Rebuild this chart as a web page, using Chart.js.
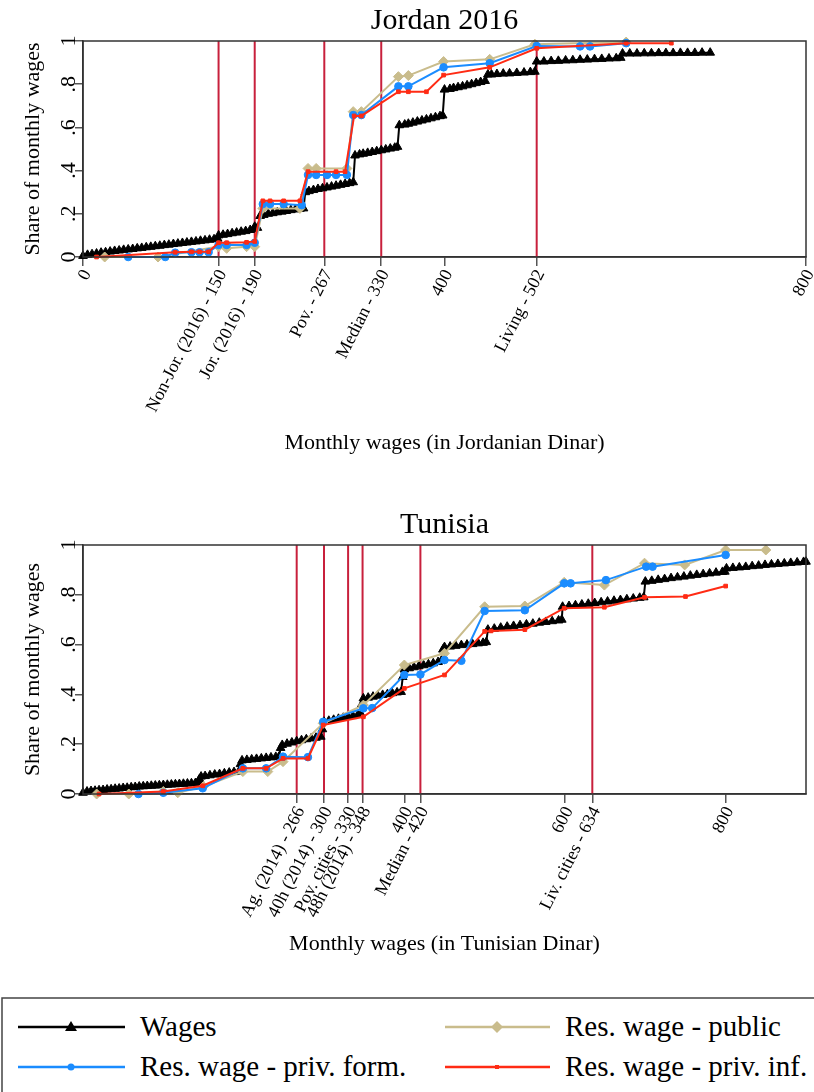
<!DOCTYPE html>
<html>
<head>
<meta charset="utf-8">
<script src="https://cdn.jsdelivr.net/npm/chart.js@4.4.0/dist/chart.umd.min.js"></script>
<style>
	body { margin: 0; background: #fff; width: 814px; height: 1092px; overflow: hidden; position: relative; font-family: "Liberation Serif", serif; }
	canvas { position: absolute; left: 0; }
	#jordan { top: 0; }
	#tunisia { top: 490px; }
	#legend { position: absolute; left: 0; top: 997px; }
</style>
</head>
<body>
<canvas id="jordan" width="814" height="490"></canvas>
<canvas id="tunisia" width="814" height="500"></canvas>
<svg id="legend" width="814" height="95" font-family="Liberation Serif" font-size="29">
	<rect x="2" y="1" width="840" height="130" fill="none" stroke="#444" stroke-width="1.5"/>
	<line x1="18" y1="30" x2="125" y2="30" stroke="#000" stroke-width="2.5"/>
	<polygon points="71,24 77,34 65,34" fill="#000"/>
	<text x="140" y="39">Wages</text>
	<line x1="445" y1="30" x2="550" y2="30" stroke="#c9bc8c" stroke-width="2.5"/>
	<polygon points="497,24 503,30 497,36 491,30" fill="#c9bc8c"/>
	<text x="565" y="39">Res. wage - public</text>
	<line x1="18" y1="70" x2="125" y2="70" stroke="#1a8cff" stroke-width="2.5"/>
	<circle cx="71" cy="70" r="3.5" fill="#1a8cff"/>
	<text x="140" y="79">Res. wage - priv. form.</text>
	<line x1="445" y1="70" x2="550" y2="70" stroke="#ff2b14" stroke-width="2.5"/>
	<rect x="495" y="68" width="4" height="4" fill="#ff2b14"/>
	<text x="565" y="79">Res. wage - priv. inf.</text>
</svg>
<script>
// ---- Jordan 2016 : [monthly wage, cumulative share]
const jorWages = [[0,.005],[5,.01],[10,.013],[15,.016],[20,.02],[25,.022],[30,.025],[35,.028],[40,.03],[45,.033],[50,.035],[55,.037],[60,.04],[65,.042],[70,.045],[75,.047],[80,.05],[85,.052],[90,.055],[95,.057],[100,.06],[105,.062],[110,.065],[115,.067],[120,.07],[125,.072],[130,.075],[135,.077],[140,.08],[145,.082],[149,.085],
	[150,.1],[155,.103],[160,.106],[165,.11],[170,.113],[175,.117],[180,.12],[185,.125],[189,.13],[190,.14],[193,.135],[196,.19],[200,.195],[205,.2],[210,.203],[215,.207],[220,.21],[225,.213],[230,.217],[235,.22],[240,.223],[244,.225],
	[246,.3],[250,.305],[255,.31],[260,.315],[265,.318],[270,.322],[275,.326],[280,.33],[285,.334],[290,.338],[295,.342],[299,.346],
	[301,.47],[306,.475],[310,.478],[315,.482],[320,.486],[325,.49],[330,.494],[335,.498],[340,.502],[345,.506],[348,.51],
	[350,.61],[356,.613],[360,.617],[365,.622],[370,.627],[375,.632],[380,.637],[385,.642],[390,.647],[395,.652],[398,.655],
	[400,.775],[406,.778],[410,.782],[415,.786],[420,.79],[425,.795],[430,.8],[435,.805],[440,.81],[445,.815],
	[448,.845],[452,.845],[458,.847],[465,.849],[472,.85],[480,.852],[488,.854],[495,.856],[500,.858],
	[502,.905],[510,.905],[518,.907],[526,.908],[534,.91],[542,.911],[550,.913],[558,.914],[566,.916],[574,.917],[582,.919],[590,.92],[595,.922],
	[597,.942],[605,.942],[613,.942],[621,.943],[629,.943],[637,.944],[645,.944],[653,.944],[661,.945],[669,.945],[677,.945],[685,.946],[694,.946]];
const jorPublic = [[24,0],[83,0],[150,.048],[159,.04],[181,.048],[190,.048],[199,.225],[240,.225],[249,.41],[258,.41],[292,.41],[299,.673],[308,.673],[349,.835],[360,.84],[399,.905],[450,.915],[500,.985],[601,.995]];
const jorPrivForm = [[50,0],[91,0],[102,.02],[120,.022],[129,.022],[139,.022],[150,.056],[159,.056],[181,.056],[190,.066],[199,.245],[207,.245],[222,.245],[242,.24],[249,.38],[258,.38],[270,.38],[280,.38],[292,.38],[299,.657],[308,.657],[349,.79],[360,.79],[399,.878],[450,.897],[502,.977],[550,.975],[561,.975],[601,.99]];
const jorPrivInf = [[15,0],[102,.022],[120,.024],[129,.024],[139,.024],[150,.066],[159,.066],[181,.068],[190,.072],[199,.26],[207,.26],[222,.26],[240,.26],[249,.395],[280,.395],[290,.395],[300,.653],[308,.653],[349,.765],[360,.765],[380,.765],[399,.842],[450,.878],[502,.966],[601,.99],[651,.99]];
const jorTicks = [0, 150, 190, 267, 330, 400, 502, 800];
const jorTickLabels = ['0', 'Non-Jor. (2016) - 150', 'Jor. (2016) - 190', 'Pov. - 267', 'Median - 330', '400', 'Living - 502', '800'];
const jorLines = [150, 190, 267, 330, 502];

// ---- Tunisia
const tunWages = [[0,.005],[5,.01],[10,.012],[15,.013],[20,.015],[25,.016],[30,.018],[35,.019],[40,.021],[45,.022],[50,.024],[55,.025],[60,.027],[65,.028],[70,.03],[75,.031],[80,.032],[85,.033],[90,.034],[95,.035],[100,.036],[105,.037],[110,.038],[115,.039],[120,.04],[125,.041],[130,.042],[135,.043],[140,.044],[144,.045],
	[145,.06],[147,.07],[152,.072],[158,.075],[164,.078],[170,.08],[176,.083],[182,.086],[188,.088],[194,.09],
	[196,.12],[198,.135],[204,.137],[210,.139],[216,.141],[222,.143],[228,.145],[234,.147],[240,.149],[244,.15],
	[246,.185],[248,.197],[254,.202],[260,.207],[266,.212],[272,.216],[278,.22],[284,.223],[290,.226],[296,.23],
	[298,.26],[300,.29],[306,.294],[312,.298],[318,.302],[324,.306],[330,.31],[336,.313],[342,.317],[346,.32],
	[347,.36],[349,.384],[355,.387],[361,.391],[367,.395],[373,.398],[379,.401],[385,.405],[391,.408],[396,.41],
	[398,.47],[400,.5],[406,.505],[412,.509],[418,.513],[424,.517],[430,.521],[436,.525],[442,.53],[446,.535],
	[448,.58],[450,.59],[457,.592],[464,.595],[471,.598],[478,.6],[485,.602],[492,.605],[498,.607],[502,.61],
	[504,.66],[512,.664],[520,.668],[528,.672],[536,.675],[544,.678],[552,.681],[560,.684],[568,.688],[576,.691],[584,.694],[592,.697],[596,.7],
	[597,.752],[605,.755],[613,.758],[621,.761],[629,.764],[637,.767],[645,.77],[653,.773],[661,.776],[669,.779],[677,.782],[685,.785],[693,.788],[698,.79],
	[700,.853],[708,.856],[716,.86],[724,.863],[732,.867],[740,.87],[748,.873],[756,.877],[764,.88],[772,.883],[780,.886],[788,.889],[796,.892],[799,.893],
	[801,.906],[809,.908],[817,.91],[825,.912],[833,.915],[841,.917],[849,.92],[857,.922],[865,.924],[873,.926],[881,.928],[889,.93],[897,.932],[900,.933]];
const tunPublic = [[17,0],[57,0],[100,.01],[118,.005],[150,.03],[199,.09],[230,.09],[249,.13],[299,.284],[349,.357],[400,.518],[450,.565],[500,.752],[550,.755],[599,.85],[649,.839],[699,.927],[749,.92],[800,.98],[850,.98]];
const tunPrivForm = [[69,0],[100,.005],[149,.023],[199,.103],[228,.103],[249,.15],[280,.148],[299,.29],[349,.344],[360,.345],[400,.478],[420,.48],[450,.538],[471,.535],[500,.735],[550,.738],[599,.846],[607,.846],[651,.859],[701,.913],[709,.913],[800,.96]];
const tunPrivInf = [[20,0],[100,.01],[149,.033],[199,.103],[228,.103],[249,.143],[280,.143],[299,.277],[349,.31],[400,.424],[450,.478],[500,.653],[508,.655],[550,.66],[599,.746],[649,.75],[699,.79],[750,.793],[800,.835]];
const tunTicks = [266, 300, 330, 348, 400, 420, 600, 634, 800];
const tunTickLabels = ['Ag. (2014) - 266', '40h (2014) - 300', 'Pov. cities - 330', '48h (2014) - 348', '400', 'Median - 420', '600', 'Liv. cities - 634', '800'];
const tunLines = [266, 300, 330, 348, 420, 634];

const yTicks = [0, .2, .4, .6, .8, 1];
const yTickLabels = ['0', '.2', '.4', '.6', '.8', '1'];

const TAN = '#c9bc8c', BLUE = '#1a8cff', RED = '#ff2b14', CRIMSON = '#c8203c';
const SERIF = '"Liberation Serif", serif';

const decorPlugin = {
	id: 'decor',
	beforeDatasetsDraw(chart, args, opts) {
		const { ctx, chartArea: a, scales: { x } } = chart;
		ctx.save();
		ctx.strokeStyle = CRIMSON;
		ctx.lineWidth = 2;
		opts.lines.forEach(v => {
			const px = x.getPixelForValue(v);
			ctx.beginPath();
			ctx.moveTo(px, a.top);
			ctx.lineTo(px, a.bottom);
			ctx.stroke();
		});
		ctx.restore();
	},
	afterDraw(chart, args, opts) {
		const { ctx, chartArea: a, scales: { x, y } } = chart;
		ctx.save();
		ctx.strokeStyle = '#333';
		ctx.lineWidth = 1.5;
		ctx.strokeRect(a.left, a.top, a.right - a.left, a.bottom - a.top);

		ctx.fillStyle = '#000';
		// y tick labels, rotated
		ctx.font = `22px ${SERIF}`;
		ctx.textAlign = 'center';
		ctx.textBaseline = 'middle';
		yTicks.forEach((v, i) => {
			ctx.save();
			ctx.translate(a.left - 14, y.getPixelForValue(v));
			ctx.rotate(-Math.PI / 2);
			ctx.fillText(yTickLabels[i], 0, 0);
			ctx.restore();
		});
		// y title
		ctx.font = `22px ${SERIF}`;
		ctx.save();
		ctx.translate(33, (a.top + a.bottom) / 2);
		ctx.rotate(-Math.PI / 2);
		ctx.fillText('Share of monthly wages', 0, 0);
		ctx.restore();

		// x tick labels, slanted
		ctx.font = `18px ${SERIF}`;
		ctx.textAlign = 'right';
		opts.ticks.forEach((v, i) => {
			ctx.save();
			ctx.translate(x.getPixelForValue(v) + 4, a.bottom + 14);
			ctx.rotate(-63 * Math.PI / 180);
			ctx.fillText(opts.tickLabels[i], 0, 0);
			ctx.restore();
		});

		ctx.textAlign = 'center';
		ctx.font = `22px ${SERIF}`;
		ctx.fillText(opts.xTitle, (a.left + a.right) / 2, a.bottom + opts.xTitleOffset);
		ctx.font = `30px ${SERIF}`;
		ctx.fillText(opts.title, (a.left + a.right) / 2, a.top - 20);
		ctx.restore();
	}
};

function lineSet(label, pairs, color, style, radius, order) {
	return {
		label: label,
		data: pairs.map(p => ({ x: p[0], y: p[1] })),
		showLine: true,
		borderColor: color,
		backgroundColor: color,
		borderWidth: 2,
		pointStyle: style,
		pointRadius: radius,
		pointBorderWidth: 1,
		pointBackgroundColor: color,
		pointBorderColor: color,
		clip: false,
		order: order
	};
}

function createWageChart(canvasId, s) {
	const canvas = document.getElementById(canvasId);
	return new Chart(canvas.getContext('2d'), {
		type: 'scatter',
		data: {
			datasets: [
				lineSet('Wages', s.wages, '#000', 'triangle', 5, 3),
				lineSet('Res. wage - public', s.pub, TAN, 'rectRot', 5, 2),
				lineSet('Res. wage - priv. form.', s.form, BLUE, 'circle', 3.8, 1),
				lineSet('Res. wage - priv. inf.', s.inf, RED, 'rect', 2.6, 0)
			]
		},
		options: {
			responsive: false,
			animation: false,
			layout: { padding: { top: s.plotTop, right: 8, bottom: 0, left: 0 } },
			scales: {
				x: {
					type: 'linear',
					min: 0,
					max: s.xMax,
					afterBuildTicks: sc => { sc.ticks = s.ticks.map(v => ({ value: v })); },
					afterFit: sc => { sc.height = canvas.height - s.plotBottom; },
					ticks: { display: false },
					grid: { drawOnChartArea: false, drawTicks: true, tickLength: 9, color: '#555', lineWidth: 1.5 },
					border: { color: '#333', width: 1.5 }
				},
				y: {
					min: 0,
					max: 1,
					afterBuildTicks: sc => { sc.ticks = yTicks.map(v => ({ value: v })); },
					afterFit: sc => { sc.width = 83; },
					ticks: { display: false },
					grid: { drawOnChartArea: false, drawTicks: true, tickLength: 8, color: '#555', lineWidth: 1.5 },
					border: { color: '#333', width: 1.5 }
				}
			},
			plugins: {
				legend: { display: false },
				tooltip: { enabled: false },
				decor: {
					title: s.title,
					xTitle: s.xTitle,
					xTitleOffset: s.xTitleOffset,
					ticks: s.ticks,
					tickLabels: s.tickLabels,
					lines: s.lines
				}
			}
		},
		plugins: [decorPlugin]
	});
}

createWageChart('jordan', {
	wages: jorWages, pub: jorPublic, form: jorPrivForm, inf: jorPrivInf,
	ticks: jorTicks, tickLabels: jorTickLabels, lines: jorLines,
	xMax: 800, plotTop: 41, plotBottom: 257,
	title: 'Jordan 2016', xTitle: 'Monthly wages (in Jordanian Dinar)', xTitleOffset: 186
});

createWageChart('tunisia', {
	wages: tunWages, pub: tunPublic, form: tunPrivForm, inf: tunPrivInf,
	ticks: tunTicks, tickLabels: tunTickLabels, lines: tunLines,
	xMax: 900, plotTop: 55, plotBottom: 304,
	title: 'Tunisia', xTitle: 'Monthly wages (in Tunisian Dinar)', xTitleOffset: 150
});
</script>
</body>
</html>
